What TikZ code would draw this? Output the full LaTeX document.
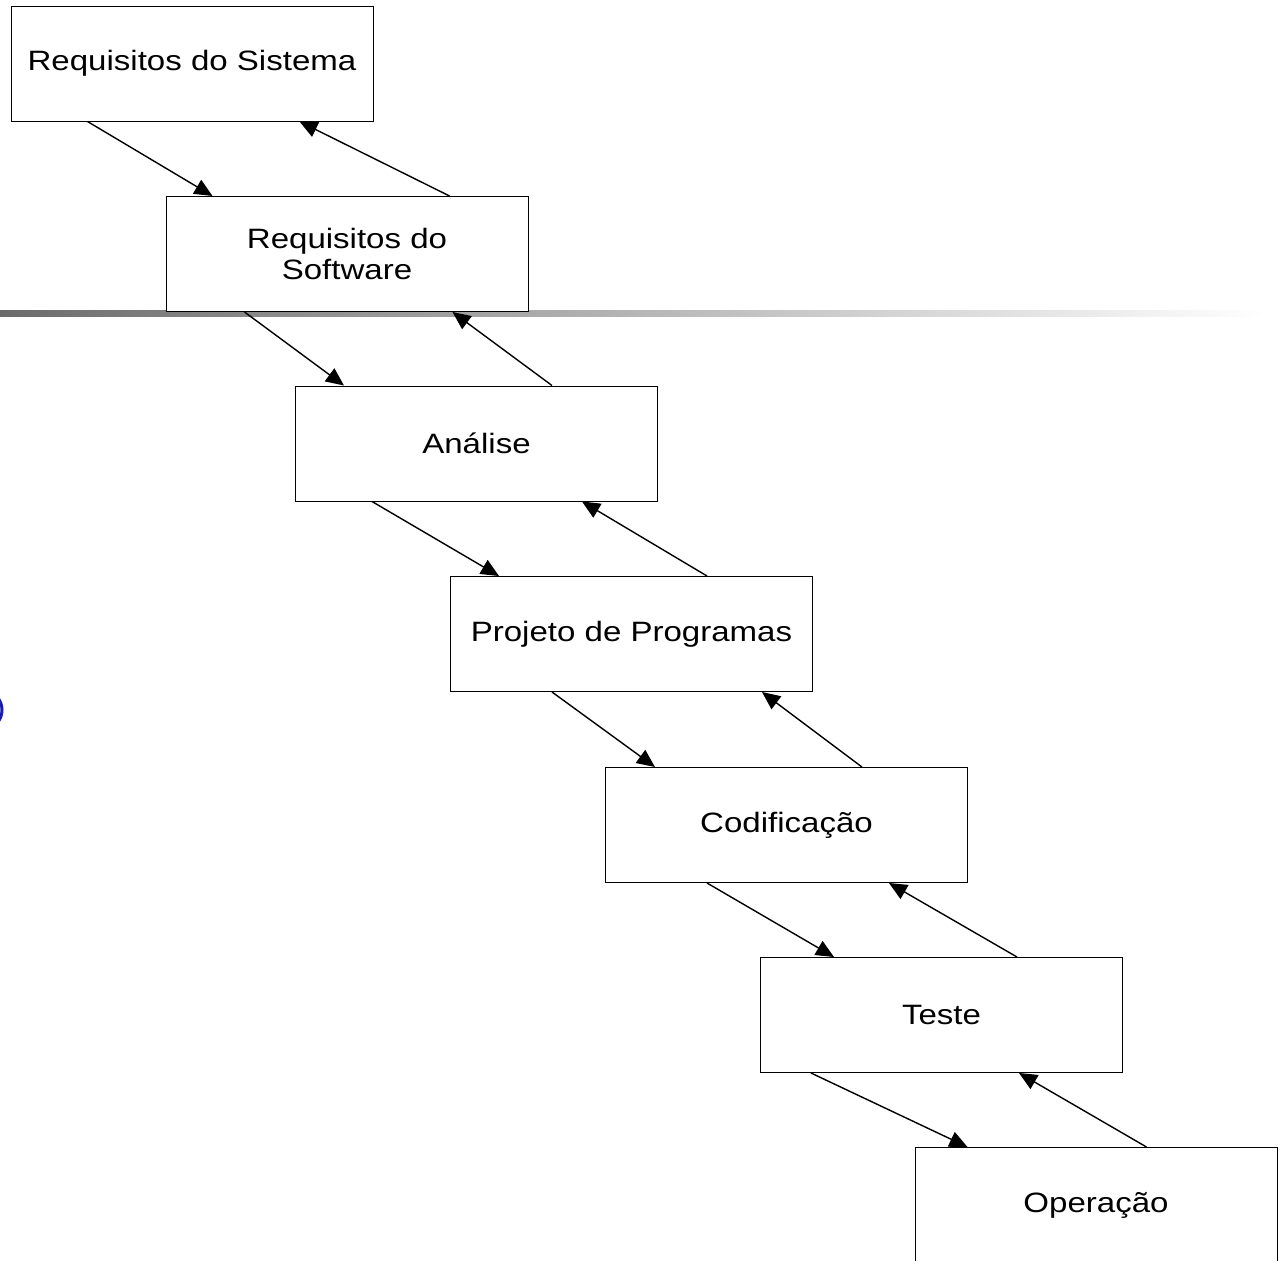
\documentclass[tikz,border=0pt]{standalone}
\usepackage{fontspec}
\setmainfont[FakeStretch=1.18]{Liberation Sans}
\usetikzlibrary{arrows.meta}

\begin{document}
\begin{tikzpicture}[x=1pt, y=-1pt,
  etapa/.style={draw, line width=1pt, fill=white, minimum width=362pt, minimum height=115pt,
    inner sep=0pt, align=center, font=\fontsize{28}{31}\selectfont},
  seta/.style={-{Triangle[length=18pt,width=16pt]}, line width=1.4pt}]

  \useasboundingbox (0,0) rectangle (1283,1261);

  % faixa e marca do slide
  \shade[left color=black!58, middle color=black!18, right color=white] (0,310) rectangle (1265,316);
  \draw[blue!70!black!90, line width=3pt] (-14,710) ellipse (16 and 18);

  \node[etapa] (sistema)  at (192,63.5)   {Requisitos do Sistema};
  \node[etapa] (software) at (347,254)    {Requisitos do\\Software};
  \node[etapa] (analise)  at (476.5,443.5) {Análise};
  \node[etapa] (projeto)  at (631.5,634)  {Projeto de Programas};
  \node[etapa] (codif)    at (786.5,825)  {Codificação};
  \node[etapa] (teste)    at (941.5,1015) {Teste};
  \node[etapa] (operacao) at (1096,1205)  {Operação};

  \draw[seta] ([xshift=77]sistema.south west) -- ([xshift=47]software.north west); %% sistema->software
  \draw[seta] ([xshift=284]software.north west) -- ([xshift=289]sistema.south west); %% software->sistema

  \draw[seta] ([xshift=79]software.south west) -- ([xshift=49]analise.north west); %% software->analise
  \draw[seta] ([xshift=257]analise.north west) -- ([xshift=287]software.south west); %% analise->software

  \draw[seta] ([xshift=77]analise.south west) -- ([xshift=49]projeto.north west); %% analise->projeto
  \draw[seta] ([xshift=257]projeto.north west) -- ([xshift=287]analise.south west); %% projeto->analise

  \draw[seta] ([xshift=102]projeto.south west) -- ([xshift=50]codif.north west); %% projeto->codif
  \draw[seta] ([xshift=257]codif.north west) -- ([xshift=312]projeto.south west); %% codif->projeto

  \draw[seta] ([xshift=102]codif.south west) -- ([xshift=74]teste.north west); %% codif->teste
  \draw[seta] ([xshift=257]teste.north west) -- ([xshift=284]codif.south west); %% teste->codif

  \draw[seta] ([xshift=51]teste.south west) -- ([xshift=53]operacao.north west); %% teste->operacao
  \draw[seta] ([xshift=232]operacao.north west) -- ([xshift=259]teste.south west); %% operacao->teste
\end{tikzpicture}
\end{document}
